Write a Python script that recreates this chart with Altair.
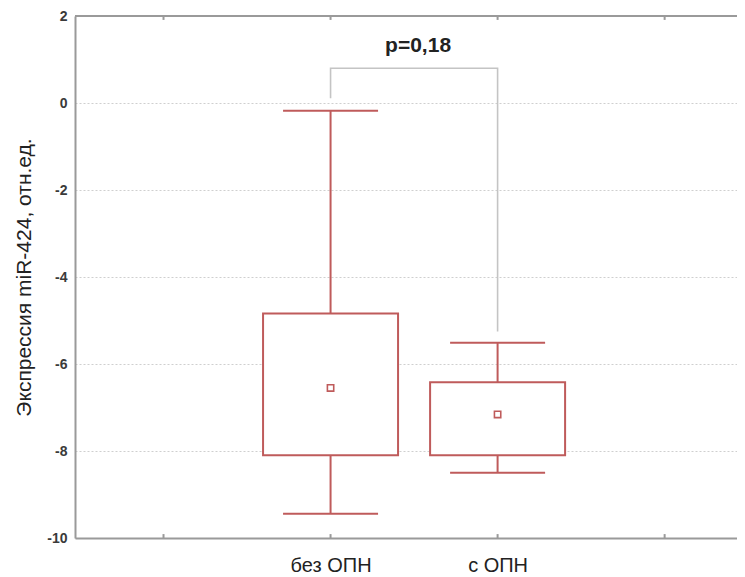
import altair as alt
import pandas as pd

# ---- data ----
categories = ["без ОПН", "с ОПН"]
positions = [2, 3]                 # slot index of each group on the x axis (slots 1..4)
slot_ticks = [1, 2, 3, 4]
means = [-6.55, -7.16]
box_low = [-8.10, -8.10]
box_high = [-4.84, -6.42]
whisker_low = [-9.44, -8.50]
whisker_high = [-0.18, -5.51]

bracket_x = [2, 2, 3, 3]
bracket_y = [0.11, 0.80, 0.80, -5.25]
p_label = "p=0,18"
p_x = [2.5]
p_y = [1.32]

y_ticks = [-10, -8, -6, -4, -2, 0, 2]
y_title = "Экспрессия miR-424, отн.ед."

RED = "#bf5b5b"
FRAME = "#9a9a9a"
FONT = "Liberation Sans"

df = pd.DataFrame({
    "cat": categories, "pos": positions, "mean": means,
    "q1": box_low, "q3": box_high, "wlo": whisker_low, "whi": whisker_high,
})
br = pd.DataFrame({"pos": bracket_x, "v": bracket_y, "ord": list(range(len(bracket_x)))})
pt = pd.DataFrame({"pos": p_x, "v": p_y, "t": [p_label]})
tk = pd.DataFrame({"pos": slot_ticks})

label_expr = ""
for p, c in zip(positions, categories):
    label_expr += f"datum.value == {p} ? '{c}' : "
label_expr += "''"

W = 662
H = 522
xs = alt.Scale(domain=[0.5, 0.5 + W / 169.6], nice=False, zero=False)
ys = alt.Scale(domain=[-10, 2], nice=False, zero=False)

xaxis = alt.Axis(values=slot_ticks, labelExpr=label_expr, ticks=False, grid=False,
                 domain=True, domainColor=FRAME, domainWidth=2,
                 labelFont=FONT, labelFontSize=20, labelColor="#222222",
                 labelPadding=17, title=None)
yaxis = alt.Axis(values=y_ticks, ticks=False, grid=True, gridColor="#cfcfcf",
                 gridDash=[2, 2], gridWidth=1,
                 labelExpr="replace(datum.label, '\u2212', '-')",
                 domain=True, domainColor=FRAME, domainWidth=2,
                 labelFont=FONT, labelFontSize=14, labelFontWeight="bold",
                 labelColor="#3a3a3a", labelPadding=8,
                 titleFont=FONT, titleFontSize=21, titleFontWeight="normal",
                 titleColor="#222222", titlePadding=12)


def X(f="pos"):
    return alt.X(f"{f}:Q", scale=xs, axis=xaxis, title=None)


def Y(f):
    return alt.Y(f"{f}:Q", scale=ys, axis=yaxis, title=y_title)


base = alt.Chart(df)

top_line = alt.Chart(tk).mark_rule(color=FRAME, strokeWidth=2).encode(y=alt.datum(2, scale=ys))
bottom_ticks = alt.Chart(tk).mark_rule(color=FRAME, strokeWidth=2).encode(
    x=X(), y=alt.datum(-10, scale=ys), y2=alt.datum(-9.91))
top_ticks = alt.Chart(tk).mark_rule(color=FRAME, strokeWidth=2).encode(
    x=X(), y=alt.datum(2, scale=ys), y2=alt.datum(1.91))

whisk_hi = base.mark_rule(color=RED, strokeWidth=2).encode(x=X(), y=Y("q3"), y2="whi:Q")
whisk_lo = base.mark_rule(color=RED, strokeWidth=2).encode(x=X(), y=Y("q1"), y2="wlo:Q")
cap_hi = base.mark_tick(orient="horizontal", size=95, thickness=2, color=RED, opacity=1).encode(x=X(), y=Y("whi"))
cap_lo = base.mark_tick(orient="horizontal", size=95, thickness=2, color=RED, opacity=1).encode(x=X(), y=Y("wlo"))
box = base.mark_bar(size=135, fill="white", stroke=RED, strokeWidth=2, opacity=1).encode(
    x=X(), y=Y("q1"), y2="q3:Q")
mean_pt = base.mark_point(shape="square", size=40, filled=False, color=RED,
                          strokeWidth=1.6, opacity=1).encode(x=X(), y=Y("mean"))

bracket = alt.Chart(br).mark_line(color="#c4c4c4", strokeWidth=1.6).encode(
    x=X(), y=Y("v"), order="ord:Q")
ptext = alt.Chart(pt).mark_text(font=FONT, fontSize=21, fontWeight="bold", color="#222222", dx=4).encode(
    x=X(), y=Y("v"), text="t:N")

chart = alt.layer(
    bracket, whisk_hi, whisk_lo, cap_hi, cap_lo, box, mean_pt, ptext,
    top_line, bottom_ticks, top_ticks,
).properties(
    width=W, height=H,
    autosize=alt.AutoSizeParams(type="none"),
    padding={"left": 67, "top": 8, "right": 0, "bottom": 39},
    background="white",
).configure_view(stroke=None)

chart.save("out.html", embed_options={"renderer": "svg", "actions": False})
